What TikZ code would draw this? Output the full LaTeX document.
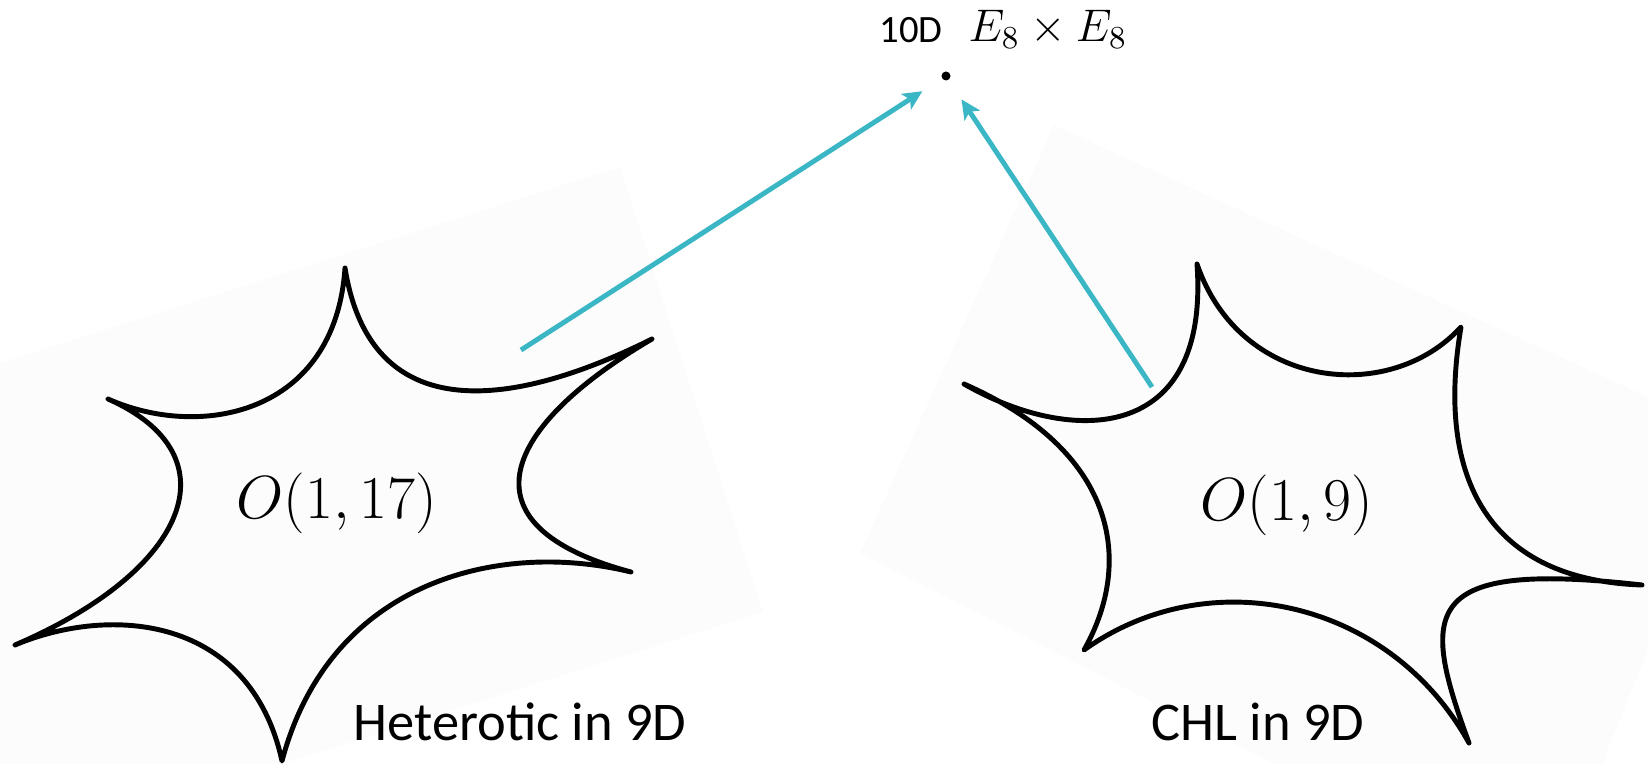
\RequirePackage{fix-cm}
\documentclass[tikz,border=0pt]{standalone}
\usepackage{fontspec}
\newfontfamily\labelfont{Carlito}
\usepackage{tikz}
\usetikzlibrary{arrows.meta}
\definecolor{arrowteal}{HTML}{3BB6C4}
\definecolor{sheet}{HTML}{FCFCFC}
\tikzset{moduli/.style={draw=black,line width=1.4pt,line join=round,line cap=round},link/.style={-{Stealth[length=5.5pt,width=5.2pt,inset=1.3pt]},draw=arrowteal,line width=1.4pt,shorten >=6.5pt}}

\begin{document}
\begin{tikzpicture}[x=0.01cm,y=-0.01cm,
caption/.style={font=\labelfont\fontsize{15.5}{18}\selectfont,anchor=base,inner sep=0pt},
grp/.style={font=\fontsize{17.3}{20}\selectfont,anchor=base,inner sep=0pt},
pt/.style={circle,fill=black,inner sep=0pt,minimum size=0.09cm}]
\useasboundingbox (0,0) rectangle (1648,764);
% faint backdrops behind the two moduli spaces
\fill[sheet] (0,363)--(620,167)--(763,612)--(282,764)--(0,764)--cycle;
\fill[sheet] (1054,125)--(1648,397)--(1648,650)--(1602,764)--(1274,764)--(860,553)--cycle;
% heterotic star
\draw[moduli] (345,268) .. controls (375,455) and (560,385) .. (652,339)
 .. controls (505,425) and (455,525) .. (631,572)
 .. controls (500,540) and (330,580) .. (282,761)
 .. controls (250,615) and (110,605) .. (15,645)
 .. controls (190,570) and (235,455) .. (108,399)
 .. controls (200,440) and (335,415) .. (345,268);
% CHL star
\draw[moduli] (1197,264) .. controls (1240,390) and (1390,405) .. (1461,327)
 .. controls (1435,480) and (1490,580) .. (1642,585)
 .. controls (1420,560) and (1420,610) .. (1469,743)
 .. controls (1390,600) and (1210,560) .. (1084,650)
 .. controls (1135,560) and (1115,450) .. (964,384)
 .. controls (1070,445) and (1210,445) .. (1197,264);
\node[grp] (hetgrp) at (337,519) {$O(1,17)$};
\node[grp] (chlgrp) at (1287,521) {$O(1,9)$};
\node[caption] (hetcap) at (520,741) {Heterotic in 9D};
\node[caption] (chlcap) at (1258,741) {CHL in 9D};
% 10D point
\node[pt] (tenpt) at (946,76) {};
\node[font=\labelfont\fontsize{11}{13}\selectfont,anchor=base,inner sep=0pt] (tenlbl) at (911,43) {10D};
\node[font=\fontsize{13}{15}\selectfont,anchor=base west,inner sep=0pt] (e8lbl) at (968,42) {$E_8\times E_8$};
\coordinate (hetfoot) at (521,350);
\coordinate (chlfoot) at (1152,387);
\draw[link] (hetfoot) -- (tenpt);
\draw[link] (chlfoot) -- (tenpt);
\end{tikzpicture}
\end{document}
